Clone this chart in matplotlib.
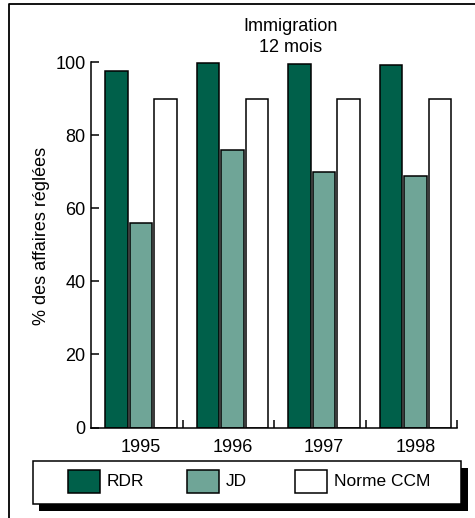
import matplotlib

matplotlib.use("Agg")
import matplotlib.pyplot as plt
import numpy as np
from matplotlib.patches import Rectangle

plt.rcParams["font.family"] = ["Liberation Sans", "DejaVu Sans"]

years = ["1995", "1996", "1997", "1998"]
rdr = [97.5, 99.8, 99.5, 99.3]
jd = [56.1, 75.9, 70.0, 69.0]
norme_ccm = [90, 90, 90, 90]
series_names = ["RDR", "JD", "Norme CCM"]
series_colors = ["#00604a", "#6fa597", "#ffffff"]

W, H = 475, 518


def fx(px):
    return px / W


def fy(py):
    return 1 - py / H


fig = plt.figure(figsize=(W / 100, H / 100), dpi=100)
ax = fig.add_axes([fx(91), fy(427.5), fx(457) - fx(91), fy(62.3) - fy(427.5)])

x = np.arange(len(years))
step, width = 0.268, 0.246
for k, (vals, color) in enumerate(zip([rdr, jd, norme_ccm], series_colors)):
    ax.bar(x + (k - 1) * step, vals, width, color=color, edgecolor="black", linewidth=1.1)

ax.set_xlim(-0.546, len(years) - 0.546)
ax.set_ylim(0, 100)
ax.set_yticks(range(0, 101, 20))
ax.set_xticks(x)
ax.set_xticklabels(years, fontsize=13)
ax.set_xticks(x + 0.454, minor=True)
ax.tick_params(axis="x", which="major", length=0, pad=8)
ax.tick_params(axis="x", which="minor", direction="in", length=6, width=1.1)
ax.tick_params(axis="y", direction="in", length=6, width=1.1, pad=4, labelsize=13)
for side in ("top", "right"):
    ax.spines[side].set_visible(False)
for side in ("left", "bottom"):
    ax.spines[side].set_linewidth(1.1)

fig.text(fx(42), fy(236), "% des affaires réglées", rotation=90,
         ha="center", va="center", fontsize=13)
fig.text(fx(291), fy(30.7), "Immigration", ha="center", va="baseline", fontsize=13)
fig.text(fx(291), fy(51.7), "12 mois", ha="center", va="baseline", fontsize=13)

# outer frame, cut off at right and bottom
fig.add_artist(plt.Line2D([fx(9), fx(9), 1.0], [0.0, fy(4), fy(4)],
                          transform=fig.transFigure, color="black", linewidth=1.3))

# legend box with hard black shadow
def fig_rect(x0, y0, x1, y1, **kw):
    fig.add_artist(Rectangle((fx(x0), fy(y1)), fx(x1) - fx(x0), fy(y0) - fy(y1),
                             transform=fig.transFigure, **kw))


fig_rect(39, 468, 468, 511, facecolor="black", edgecolor="black", linewidth=0)
fig_rect(33, 461, 461, 504, facecolor="white", edgecolor="black", linewidth=1.1)
patch_x = [68, 187, 295]
for px, name, color in zip(patch_x, series_names, series_colors):
    fig_rect(px, 470, px + 32, 493, facecolor=color, edgecolor="black", linewidth=1.1)
    fig.text(fx(px + 39), fy(481.5), name, ha="left", va="center", fontsize=12.5)

fig.savefig("out.png", dpi=100)
plt.close(fig)
